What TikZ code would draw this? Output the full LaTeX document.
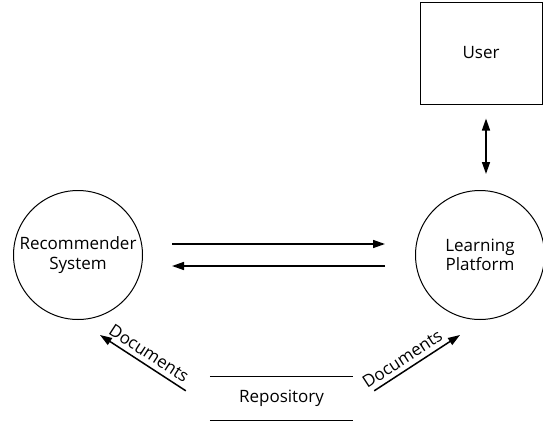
\documentclass[tikz,border=0pt]{standalone}
\usepackage{fontspec}
\setmainfont{Open Sans}
\usetikzlibrary{arrows.meta,calc}
\begin{document}
\begin{tikzpicture}[x=1pt,y=-1pt,
  every node/.style={font=\fontsize{17}{19.5}\selectfont, align=center, inner sep=0pt},
  circ/.style={circle, draw, line width=1pt, minimum size=129pt},
  userbox/.style={rectangle, draw, line width=1pt, minimum width=122pt, minimum height=102pt},
  arr/.style={line width=1.5pt, -{Triangle[length=12pt,width=8pt]}},
  darr/.style={line width=1.5pt, {Triangle[length=12pt,width=8pt]}-{Triangle[length=12pt,width=8pt]}},
  lbl/.style={sloped, above=4.5pt}]
\useasboundingbox (0,0) rectangle (543,423);
\node[circ] (rec) at (78,255) {Recommender\\System};
\node[circ] (learn) at (480,255) {Learning\\Platform};
\node[userbox] (user) at (481,53) {User};
\node[minimum width=143pt, minimum height=43pt] (repo) at (281.5,398.5) {Repository};
\draw[line width=1pt] (repo.north west) -- (repo.north east);
\draw[line width=1pt] (repo.south west) -- (repo.south east);
\draw[arr] ($(rec.east)+(29,-11)$) -- ($(learn.west)+(-30,-11)$);
\draw[arr] ($(learn.west)+(-30,11)$) -- ($(rec.east)+(29,11)$);
\draw[darr] ($(user.south)+(5,14)$) -- ($(learn.north)+(6,-16)$);
\draw[arr] ($(repo.north west)+(-24,14)$) -- node[lbl] {Documents} ($(rec.center)+(22,80)$);
\draw[arr] ($(repo.north east)+(21,14)$) -- node[lbl, pos=0.4] {Documents} ($(learn.center)+(-20,80)$);
\end{tikzpicture}
\end{document}
